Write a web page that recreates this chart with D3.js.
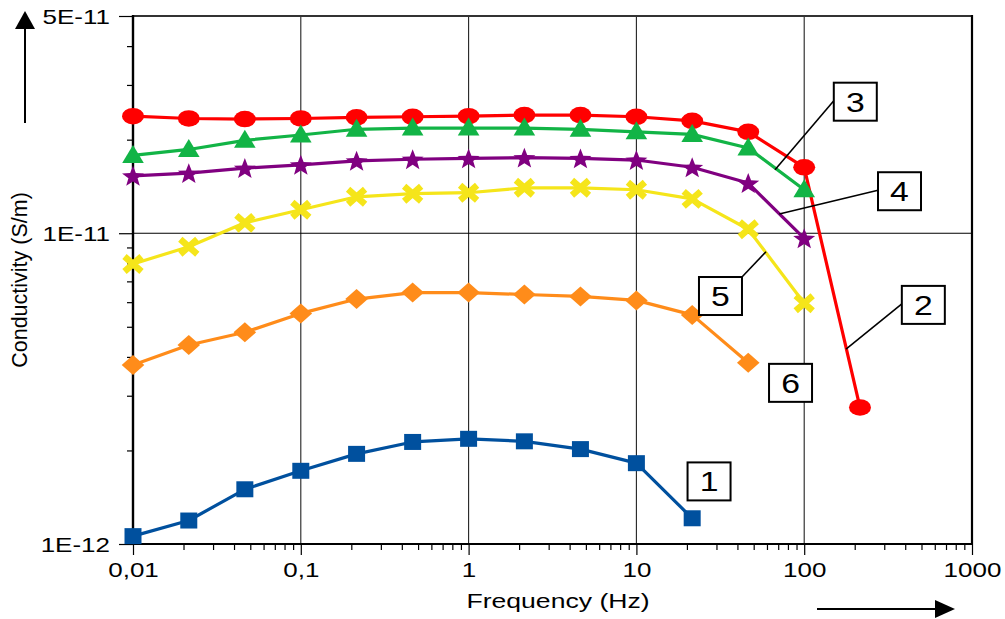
<!DOCTYPE html>
<html>
<head>
<meta charset="utf-8">
<script src="https://cdn.jsdelivr.net/npm/d3@7"></script>
<style>
  html, body { margin: 0; padding: 0; background: #fff; }
  svg { display: block; font-family: "Liberation Sans", Arial, sans-serif; }
</style>
</head>
<body>
<svg id="chart" width="1005" height="619"></svg>
<script>
// ---------------- data ----------------
const freqs = [0.01, 0.0215, 0.0464, 0.1, 0.215, 0.464, 1, 2.15, 4.64, 10, 21.5, 46.4, 100, 215];

const series1 = [1.06e-12, 1.19e-12, 1.50e-12, 1.72e-12, 1.95e-12, 2.13e-12, 2.18e-12, 2.14e-12, 2.02e-12, 1.82e-12, 1.21e-12];
const series2 = [2.38e-11, 2.34e-11, 2.33e-11, 2.34e-11, 2.36e-11, 2.37e-11, 2.38e-11, 2.40e-11, 2.40e-11, 2.37e-11, 2.30e-11, 2.12e-11, 1.63e-11, 2.75e-12];
const series3 = [1.78e-11, 1.86e-11, 1.99e-11, 2.07e-11, 2.16e-11, 2.18e-11, 2.18e-11, 2.18e-11, 2.16e-11, 2.12e-11, 2.08e-11, 1.88e-11, 1.38e-11];
const series4 = [1.53e-11, 1.56e-11, 1.62e-11, 1.66e-11, 1.71e-11, 1.73e-11, 1.74e-11, 1.75e-11, 1.74e-11, 1.72e-11, 1.63e-11, 1.45e-11, 0.963e-11];
const series5 = [7.96e-12, 9.05e-12, 1.08e-11, 1.19e-11, 1.31e-11, 1.34e-11, 1.35e-11, 1.40e-11, 1.40e-11, 1.38e-11, 1.29e-11, 1.03e-11, 5.95e-12];
const series6 = [3.77e-12, 4.37e-12, 4.80e-12, 5.52e-12, 6.14e-12, 6.44e-12, 6.44e-12, 6.35e-12, 6.26e-12, 6.08e-12, 5.46e-12, 3.83e-12];

const seriesNames = ["1", "2", "3", "4", "5", "6"];
const seriesValues = [series1, series2, series3, series4, series5, series6];
const seriesColors = ["#00509E", "#FF0000", "#12B446", "#800080", "#F5E51A", "#FF8C1A"];
const seriesMarkers = ["square", "circle", "triangle", "star", "cross", "diamond"];

const xTickValues = [0.01, 0.1, 1, 10, 100, 1000];
const xTickLabels = ["0,01", "0,1", "1", "10", "100", "1000"];
const yTickValues = [1e-12, 1e-11, 5e-11];
const yTickLabels = ["1E-12", "1E-11", "5E-11"];

// annotation boxes (label, box centre freq/value, leader target freq/value, leader anchor)
const annoLabels  = ["3", "4", "5", "2", "6", "1"];
const annoFreq    = [201.6, 369.8, 31.7, 512.8, 82.9, 27.1];
const annoValue   = [2.65e-11, 1.365e-11, 6.28e-12, 5.88e-12, 3.30e-12, 1.59e-12];
const leaderFreq  = [67, 71, 59.2, 177.5, null, null];
const leaderValue = [1.60e-11, 1.153e-11, 8.72e-12, 4.24e-12, null, null];
const leaderFrom  = ["left", "left", "topright", "left", null, null];

const xTitle = "Frequency (Hz)";
const yTitle = "Conductivity (S/m)";

// ---------------- scales ----------------
const svg = d3.select("#chart");
const pLeft = 133, pRight = 972, pTop = 16, pBottom = 544;
const x = d3.scaleLog().domain([0.01, 1000]).range([pLeft, pRight]);
const y = d3.scaleLog().domain([1e-12, 5e-11]).range([pBottom, pTop]);

// minor ticks
const xMinor = [];
for (let e = -2; e < 3; e++) for (let m = 2; m <= 9; m++) xMinor.push(m * Math.pow(10, e));
const yMinorRaw = [];
for (let e = -12; e < -10; e++) for (let m = 2; m <= 9; m++) yMinorRaw.push(m * Math.pow(10, e));
const yMinor = yMinorRaw.map(v => +v.toPrecision(3)).filter(v => v < 5e-11 && v > 1e-12);

// ---------------- grid ----------------
const grid = svg.append("g");
grid.selectAll("line.vg").data(xTickValues.slice(1, -1)).enter().append("line")
  .attr("x1", d => x(d)).attr("x2", d => x(d)).attr("y1", pTop).attr("y2", pBottom)
  .attr("stroke", "#222").attr("stroke-width", 1.1);
grid.append("line").attr("x1", pLeft).attr("x2", pRight).attr("y1", y(1e-11)).attr("y2", y(1e-11))
  .attr("stroke", "#000").attr("stroke-width", 1.1);

// ---------------- axes ----------------
const xMinorAxis = svg.append("g").attr("transform", `translate(0,${pBottom})`)
  .call(d3.axisBottom(x).tickValues(xMinor).tickSize(6).tickFormat(""));
const xAxis = svg.append("g").attr("transform", `translate(0,${pBottom})`)
  .call(d3.axisBottom(x).tickValues(xTickValues).tickSize(11).tickPadding(8)
    .tickFormat((d, i) => xTickLabels[i]));
const yMinorAxis = svg.append("g").attr("transform", `translate(${pLeft},0)`)
  .call(d3.axisLeft(y).tickValues(yMinor).tickSize(6).tickFormat(""));
const yAxis = svg.append("g").attr("transform", `translate(${pLeft},0)`)
  .call(d3.axisLeft(y).tickValues(yTickValues).tickSize(14)
    .tickFormat((d, i) => yTickLabels[i]));

[xMinorAxis, xAxis, yMinorAxis, yAxis].forEach(g => {
  g.selectAll(".domain").remove();
  g.selectAll(".tick line").attr("stroke", "#000").attr("stroke-width", 1.2);
});
xAxis.selectAll(".tick text")
  .attr("font-size", 20).attr("fill", "#000")
  .attr("font-family", "'Liberation Sans', Arial, sans-serif")
  .attr("y", 19).attr("dy", "0.71em")
  .attr("transform", "scale(1.3,1)");
yAxis.selectAll(".tick text")
  .attr("font-size", 20).attr("fill", "#000")
  .attr("font-family", "'Liberation Sans', Arial, sans-serif")
  .attr("x", -23 / 1.3).attr("dy", "0.36em")
  .attr("transform", "scale(1.3,1)");

// frame
svg.append("line").attr("x1", pLeft).attr("x2", pRight).attr("y1", pTop).attr("y2", pTop)
  .attr("stroke", "#333").attr("stroke-width", 2);
svg.append("line").attr("x1", pRight).attr("x2", pRight).attr("y1", pTop - 1).attr("y2", pBottom)
  .attr("stroke", "#000").attr("stroke-width", 2.2);
svg.append("line").attr("x1", pLeft).attr("x2", pRight + 1).attr("y1", pBottom).attr("y2", pBottom)
  .attr("stroke", "#000").attr("stroke-width", 2.2);
svg.append("line").attr("x1", pLeft).attr("x2", pLeft).attr("y1", pTop - 1).attr("y2", pBottom + 1)
  .attr("stroke", "#000").attr("stroke-width", 2.4);

// ---------------- titles ----------------
svg.append("text").attr("transform", `translate(558,608) scale(1.33,1)`)
  .attr("text-anchor", "middle").attr("font-size", 20).attr("fill", "#000").text(xTitle);
svg.append("text").attr("transform", `translate(27,280) rotate(-90)`)
  .attr("text-anchor", "middle").attr("font-size", 21.5).attr("fill", "#000").text(yTitle);

// arrows
svg.append("line").attr("x1", 25).attr("x2", 25).attr("y1", 123).attr("y2", 27)
  .attr("stroke", "#000").attr("stroke-width", 2);
svg.append("path").attr("d", "M15,29 L35,29 L25,11 Z").attr("fill", "#000");
svg.append("line").attr("x1", 817).attr("x2", 937).attr("y1", 609).attr("y2", 609)
  .attr("stroke", "#000").attr("stroke-width", 2);
svg.append("path").attr("d", "M935,600 L935,618 L955,609 Z").attr("fill", "#000");

// ---------------- series ----------------
function starPath(ro, ri) {
  let p = "";
  for (let k = 0; k < 10; k++) {
    const r = k % 2 === 0 ? ro : ri;
    const a = -Math.PI / 2 + k * Math.PI / 5;
    p += (k === 0 ? "M" : "L") + (r * Math.cos(a) * 1.05).toFixed(2) + "," + (r * Math.sin(a) + 1).toFixed(2);
  }
  return p + "Z";
}
const markerPaths = {
  square: "M-8.5,-8 L8.5,-8 L8.5,8 L-8.5,8 Z",
  triangle: "M0,-10.5 L10.8,7.5 L-10.8,7.5 Z",
  diamond: "M0,-10 L11.3,0 L0,10 L-11.3,0 Z",
  star: starPath(11, 4.6),
  cross: "M-8.5,-7.5 L8.5,7.5 M-8.5,7.5 L8.5,-7.5"
};

const line = d3.line().x(d => x(d[0])).y(d => y(d[1]));
seriesValues.forEach((vals, si) => {
  const pts = vals.map((v, i) => [freqs[i], v]);
  const g = svg.append("g").attr("class", "series-" + seriesNames[si]);
  const col = seriesColors[si];
  g.append("path").datum(pts).attr("d", line)
    .attr("fill", "none").attr("stroke", col).attr("stroke-width", 3.2).attr("stroke-linejoin", "round");
  const mk = seriesMarkers[si];
  if (mk === "circle") {
    g.selectAll("ellipse").data(pts).enter().append("ellipse")
      .attr("cx", d => x(d[0])).attr("cy", d => y(d[1]))
      .attr("rx", 11).attr("ry", 8.3).attr("fill", col);
  } else if (mk === "cross") {
    g.selectAll("path.m").data(pts).enter().append("path").attr("class", "m")
      .attr("transform", d => `translate(${x(d[0])},${y(d[1])})`)
      .attr("d", markerPaths.cross).attr("fill", "none")
      .attr("stroke", col).attr("stroke-width", 6.5);
  } else {
    g.selectAll("path.m").data(pts).enter().append("path").attr("class", "m")
      .attr("transform", d => `translate(${x(d[0])},${y(d[1])})`)
      .attr("d", markerPaths[mk]).attr("fill", col);
  }
});

// ---------------- annotation boxes ----------------
const bw = 43, bh = 38;
annoLabels.forEach((lab, i) => {
  const cx = x(annoFreq[i]), cy = y(annoValue[i]);
  const g = svg.append("g");
  if (leaderFreq[i] != null) {
    let sx, sy;
    if (leaderFrom[i] === "left") { sx = cx - bw / 2; sy = cy - 1; }
    else { sx = cx + bw / 2; sy = cy - bh / 2; }
    g.append("line").attr("x1", sx).attr("y1", sy)
      .attr("x2", x(leaderFreq[i])).attr("y2", y(leaderValue[i]))
      .attr("stroke", "#000").attr("stroke-width", 1.6);
  }
  g.append("rect").attr("x", cx - bw / 2).attr("y", cy - bh / 2)
    .attr("width", bw).attr("height", bh)
    .attr("fill", "#fff").attr("stroke", "#000").attr("stroke-width", 2);
  g.append("text").attr("transform", `translate(${cx},${cy + 10}) scale(1.25,1)`)
    .attr("text-anchor", "middle").attr("font-size", 27).attr("fill", "#000").text(lab);
});
</script>
</body>
</html>
